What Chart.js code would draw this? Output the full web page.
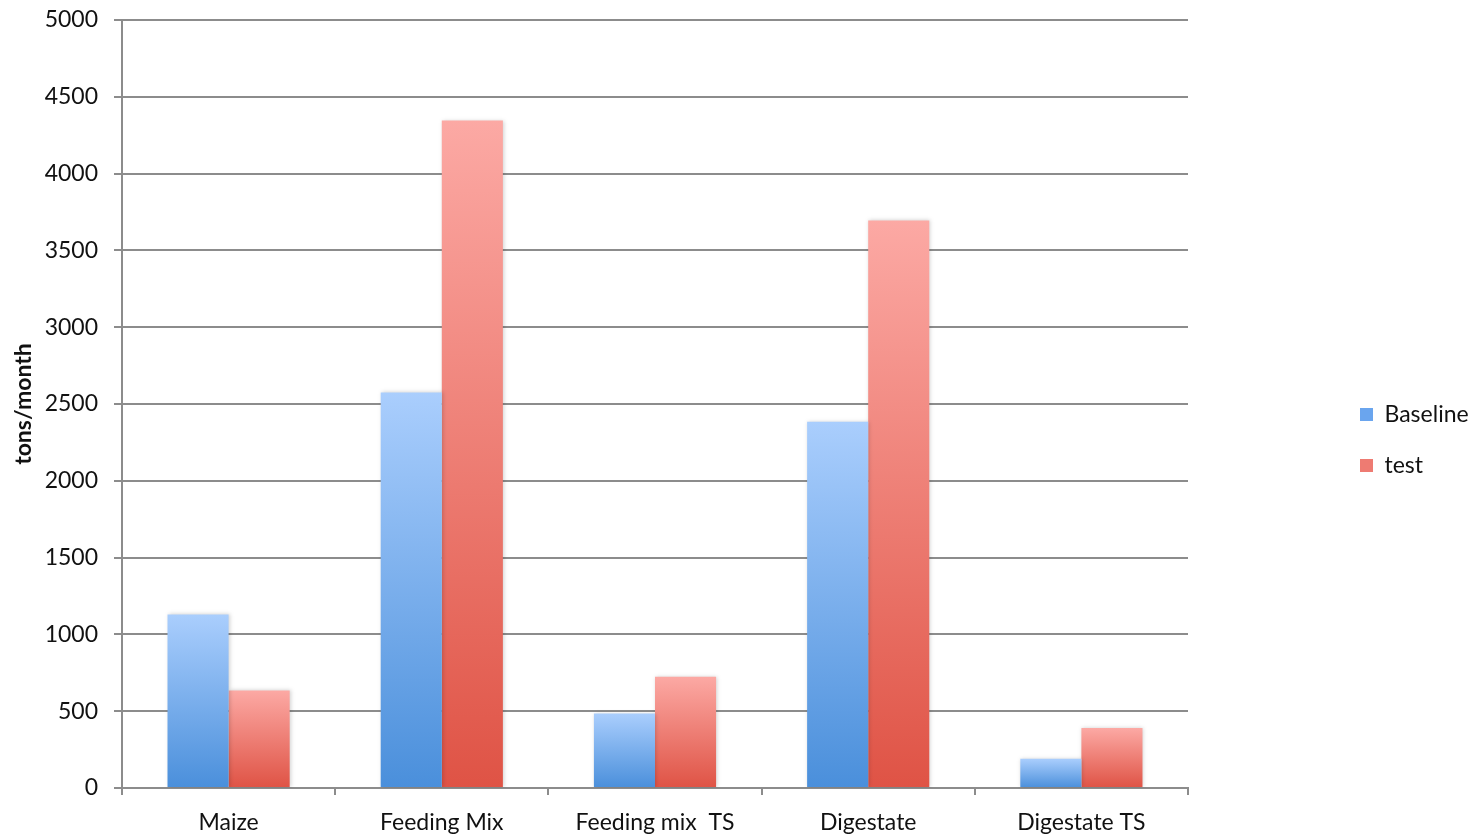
<!DOCTYPE html>
<html>
<head>
<meta charset="utf-8">
<script src="https://cdn.jsdelivr.net/npm/chart.js@4.4.1/dist/chart.umd.min.js"></script>
<style>
  html, body { margin: 0; padding: 0; background: #ffffff; }
  #wrap { width: 1470px; height: 835px; position: relative; }
</style>
</head>
<body>
<div id="wrap"><canvas id="chart" width="1470" height="835"></canvas></div>
<script>
// Monthly mass flows of the biogas plant, baseline vs. test run
const categories = ['Maize', 'Feeding Mix', 'Feeding mix  TS', 'Digestate', 'Digestate TS'];
const baselineValues = [1130, 2575, 485, 2385, 190];
const testValues = [635, 4345, 725, 3695, 390];
const yTicks = [0, 500, 1000, 1500, 2000, 2500, 3000, 3500, 4000, 4500, 5000];
const seriesNames = ['Baseline', 'test'];

const FONT = 'Lato, "Open Sans", sans-serif';
const GRID = '#8c8c8c';

// vertical gradient spanning each bar from its top to the zero line
function barGradient(topColor, bottomColor) {
  return function (ctx) {
    if (ctx.type !== 'data') return bottomColor;
    const chart = ctx.chart;
    const y = chart.scales.y;
    if (!y || !chart.chartArea) return bottomColor;
    const top = y.getPixelForValue(ctx.raw);
    const base = y.getPixelForValue(0);
    if (!isFinite(top) || !isFinite(base) || top === base) return bottomColor;
    const g = chart.ctx.createLinearGradient(0, top, 0, base);
    g.addColorStop(0, topColor);
    g.addColorStop(1, bottomColor);
    return g;
  };
}

// soft shadow behind the bars
const barShadow = {
  id: 'barShadow',
  beforeDatasetsDraw(chart) {
    const c = chart.ctx;
    c.save();
    c.shadowColor = 'rgba(0,0,0,0.18)';
    c.shadowBlur = 4;
    c.shadowOffsetX = 1;
    c.shadowOffsetY = 0;
  },
  afterDatasetsDraw(chart) {
    chart.ctx.restore();
  }
};

// keep the legend at the far right, well away from the plot
const LEGEND_WIDTH = 282;
const LEGEND_BOX_X = 1360;
const LEGEND_FIRST_TOP = 403;
const legendPlacement = {
  id: 'legendPlacement',
  beforeInit(chart) {
    const legend = chart.legend;
    const fit = legend.fit;
    legend.fit = function () {
      fit.call(this);
      this.width = LEGEND_WIDTH;
    };
  },
  afterLayout(chart) {
    const legend = chart.legend;
    const pad = legend.options.labels.padding;
    const w = legend.width;
    const h = legend.height;
    legend.left = LEGEND_BOX_X - pad;
    legend.right = legend.left + w;
    legend.top = LEGEND_FIRST_TOP - pad;
    legend.bottom = legend.top + h;
  }
};

new Chart(document.getElementById('chart'), {
  type: 'bar',
  data: {
    labels: categories,
    datasets: [
      {
        label: seriesNames[0],
        data: baselineValues,
        backgroundColor: barGradient('#aacefd', '#4a8fdb'),
        borderWidth: 0,
        legendColor: '#6aa5ee'
      },
      {
        label: seriesNames[1],
        data: testValues,
        backgroundColor: barGradient('#fca9a4', '#df5345'),
        borderWidth: 0,
        legendColor: '#ee7b72'
      }
    ]
  },
  options: {
    responsive: false,
    animation: false,
    devicePixelRatio: 1,
    layout: { padding: { top: 20, right: 0, bottom: 0, left: 0 } },
    datasets: {
      bar: { categoryPercentage: 0.573, barPercentage: 1.0 }
    },
    scales: {
      x: {
        offset: true,
        grid: {
          offset: true,
          drawOnChartArea: false,
          drawTicks: true,
          tickLength: 7,
          color: GRID,
          lineWidth: 2
        },
        border: { display: true, color: GRID, width: 2 },
        ticks: {
          color: '#111111',
          font: { family: FONT, size: 23 },
          padding: 14,
          maxRotation: 0,
          autoSkip: false
        },
        afterFit(scale) {
          scale.height = 47;
          scale.paddingLeft = 0;
          scale.paddingRight = 0;
        }
      },
      y: {
        min: 0,
        max: 5000,
        afterBuildTicks(scale) {
          scale.ticks = yTicks.map(v => ({ value: v }));
        },
        grid: {
          color: GRID,
          lineWidth: 2,
          tickLength: 8,
          drawTicks: true
        },
        border: { display: true, color: GRID, width: 2 },
        ticks: {
          color: '#111111',
          font: { family: FONT, size: 23 },
          padding: 16,
          callback: (v) => String(v)
        },
        title: {
          display: true,
          text: 'tons/month',
          color: '#111111',
          font: { family: FONT, size: 23, weight: 'bold' },
          padding: { top: 10, bottom: 0 }
        },
        afterFit(scale) {
          scale.width = 122;
          scale.paddingTop = 0;
          scale.paddingBottom = 0;
        }
      }
    },
    plugins: {
      legend: {
        position: 'right',
        align: 'start',
        labels: {
          color: '#111111',
          font: { family: FONT, size: 23 },
          boxWidth: 13,
          boxHeight: 13,
          padding: 28,
          generateLabels(chart) {
            return chart.data.datasets.map((ds, i) => ({
              text: ds.label,
              fillStyle: ds.legendColor,
              strokeStyle: ds.legendColor,
              lineWidth: 0,
              hidden: !chart.isDatasetVisible(i),
              datasetIndex: i,
              fontColor: '#111111'
            }));
          }
        }
      },
      tooltip: { enabled: false }
    }
  },
  plugins: [barShadow, legendPlacement]
});
</script>
</body>
</html>
